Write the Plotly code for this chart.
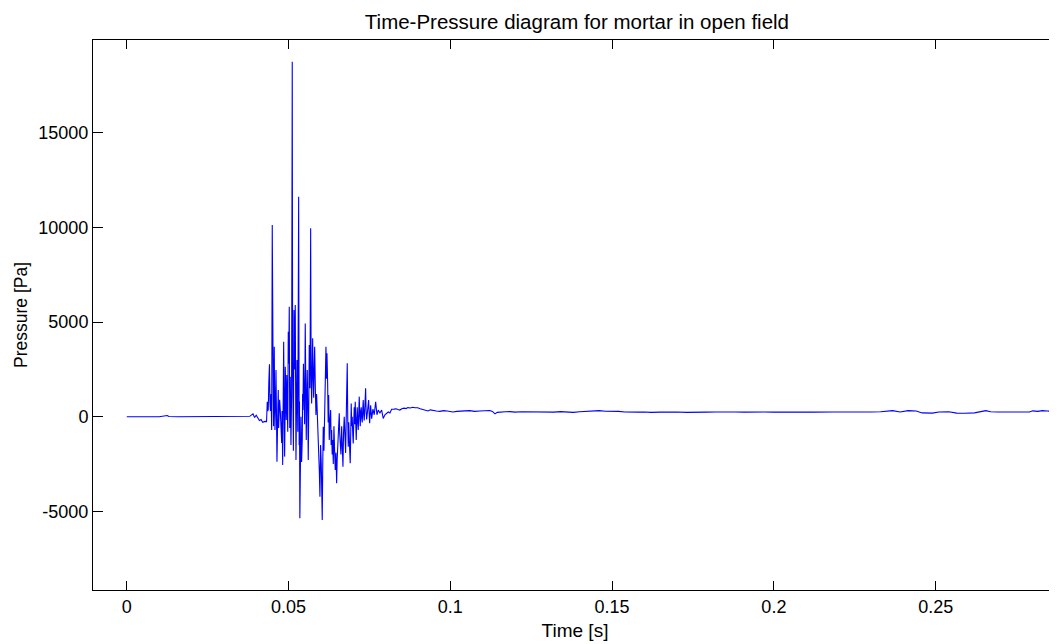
import plotly.graph_objects as go

# pressure record of a mortar shot
t_pre = [0.0, 0.005, 0.010, 0.0125, 0.013, 0.016, 0.020, 0.0235, 0.024, 0.025, 0.030,
         0.035, 0.038, 0.0390, 0.0395, 0.0400, 0.0405, 0.0410, 0.0415, 0.0420, 0.0427, 0.0432]
p_pre = [0, 5, 0, 60, 10, 0, 0, 30, 40, 0, 10,
         0, 20, 150, -40, 80, -100, -200, -150, -300, -250, -260]

t_burst = [0.04342, 0.04358, 0.04373, 0.04390, 0.04410, 0.04425, 0.04441, 0.04460, 0.04478, 0.04496,
           0.04507, 0.04518, 0.04527, 0.04536, 0.04547, 0.04558, 0.04569, 0.04580, 0.04595, 0.04611,
           0.04626, 0.04642, 0.04662, 0.04682, 0.04692, 0.04703, 0.04724, 0.04744, 0.04765, 0.04787,
           0.04800, 0.04818, 0.04834, 0.04849, 0.04864, 0.04879, 0.04889, 0.04898, 0.04914, 0.04929,
           0.04945, 0.04960, 0.04975, 0.04991, 0.05006, 0.05022, 0.05037, 0.05053, 0.05064, 0.05074,
           0.05094, 0.05114, 0.05125, 0.05136, 0.05150, 0.05167, 0.05187, 0.05207, 0.05218, 0.05229,
           0.05245, 0.05260, 0.05286, 0.05312, 0.05328, 0.05338, 0.05349, 0.05366, 0.05383, 0.05403,
           0.05423, 0.05434, 0.05445, 0.05460, 0.05476, 0.05496, 0.05516, 0.05531, 0.05547, 0.05562,
           0.05578, 0.05594, 0.05609, 0.05625, 0.05640, 0.05662, 0.05683, 0.05698, 0.05714, 0.05730,
           0.05745, 0.05760, 0.05776, 0.05791, 0.05807, 0.05827, 0.05847, 0.05867, 0.05887, 0.05909,
           0.05931, 0.05950, 0.05970, 0.05990, 0.06011, 0.06026, 0.06041, 0.06057, 0.06072, 0.06094,
           0.06115, 0.06135, 0.06156, 0.06172, 0.06187, 0.06208, 0.06224, 0.06239, 0.06258, 0.06280,
           0.06301, 0.06316, 0.06332, 0.06348, 0.06363, 0.06383, 0.06403, 0.06423, 0.06443, 0.06465,
           0.06486, 0.06502, 0.06517, 0.06542, 0.06567, 0.06582, 0.06597, 0.06619, 0.06641, 0.06661,
           0.06681, 0.06701, 0.06721, 0.06743, 0.06764, 0.06780, 0.06795, 0.06814, 0.06830, 0.06845,
           0.06860, 0.06876, 0.06891, 0.06906, 0.06921, 0.06937, 0.06952, 0.06968, 0.06984, 0.06999,
           0.07015, 0.07030, 0.07046, 0.07061, 0.07077, 0.07092, 0.07108, 0.07123, 0.07139, 0.07154,
           0.07170, 0.07185, 0.07200, 0.07216, 0.07231, 0.07247, 0.07262, 0.07278, 0.07293, 0.07308,
           0.07324, 0.07339, 0.07360, 0.07382, 0.07397, 0.07413, 0.07444, 0.07475, 0.07490, 0.07506,
           0.07537, 0.07568, 0.07608, 0.07648, 0.07692, 0.07732, 0.07772, 0.07824, 0.07877, 0.07926,
           0.07979, 0.08032, 0.08081, 0.08133, 0.08186, 0.08266]
p_burst = [790, 300, 400, 1800, 2770, 800, 300, 1200, -700, 10130,
           2000, 5810, 1000, -500, 1500, 3700, 800, -700, 600, 2470,
           200, -2380, -300, 1410, -600, 0, 900, 350, -500, -1390,
           300, -2550, 800, 3960, 500, -2110, -200, 2640, 1000, -170,
           2200, 1000, -800, 4490, 2800, 5810, -600, 2110, 400, -1500,
           1200, 18760, 3000, 600, -1800, 5640, 2500, 5900, 1200, -2290,
           400, 3000, -800, 11630, -1500, 800, -5370, -2000, 0, -2400,
           -1230, 1200, 350, 2800, 1590, -400, 4930, 1500, -1230, 800,
           2470, 300, -2290, 600, 3790, 1500, 9960, 2200, 700, 2500,
           4140, 2000, 1000, 2600, 3700, 1500, 90, 1200, 350, -600,
           -1410, -2800, -4230, -1500, -2460, -3600, -5460, -2500, -530, -1800,
           0, 1800, 3700, 2000, 3350, 1800, -300, 1150, -1230, -200,
           350, -1500, -700, -2000, -1230, -2500, -500, -1800, -2820, -1900,
           -3520, -2300, -1700, -600, 180, -900, -1230, -2000, -500, -1500,
           -2640, -800, 0, -1000, -1920, -300, 530, 2820, -200, -1590,
           -300, -800, -1800, -2460, -600, 700, -500, 0, -900, -1410,
           -300, 500, -400, 790, -300, -1230, -200, 500, -300, -700,
           200, 1060, 100, -500, 300, 500, -100, -300, 400, 880,
           100, -200, 600, 1500, 300, -150, 350, 880, 200, -350,
           600, -100, 400, 100, 790, 100, 350, 200, 350, -90,
           100, 200, 250, 200, 390, 400]

t_tail = [0.0832, 0.0838, 0.0844, 0.0850, 0.0857, 0.0863, 0.0869, 0.0876, 0.0884, 0.0891,
          0.0899, 0.0907, 0.0915, 0.0923, 0.0931, 0.0938, 0.0946, 0.0957, 0.0968, 0.0979,
          0.0990, 0.1000, 0.1008, 0.1020, 0.1030, 0.1045, 0.1060, 0.1075, 0.1091, 0.1105,
          0.1122, 0.1130, 0.1138, 0.1145, 0.1153, 0.1170, 0.1184, 0.1200, 0.1220, 0.1240,
          0.1260, 0.1280, 0.1300, 0.1320, 0.1340, 0.1360, 0.1380, 0.1400, 0.1420, 0.1440,
          0.1460, 0.1480, 0.1500, 0.1520, 0.1540, 0.1560, 0.1580, 0.1600, 0.1620, 0.1650,
          0.1680, 0.1700, 0.1730, 0.1760, 0.1790, 0.1820, 0.1850, 0.1880, 0.1910, 0.1940,
          0.1970, 0.2000, 0.2030, 0.2060, 0.2090, 0.2120, 0.2150, 0.2180, 0.2210, 0.2240,
          0.2270, 0.2300, 0.2330, 0.2367, 0.2390, 0.2415, 0.2440, 0.2458, 0.2490, 0.2510,
          0.2540, 0.2565, 0.2590, 0.2620, 0.2655, 0.2670, 0.2690, 0.2710, 0.2730, 0.2760,
          0.2790, 0.2800, 0.2815, 0.2830, 0.2845, 0.2860, 0.2875]
p_tail = [420, 380, 350, 420, 450, 430, 480, 460, 500, 470,
          470, 420, 380, 340, 300, 360, 350, 300, 280, 320,
          300, 270, 250, 280, 280, 310, 320, 280, 300, 320,
          330, 280, 150, 230, 250, 260, 270, 240, 260, 250,
          230, 260, 250, 240, 270, 250, 230, 260, 280, 300,
          320, 290, 300, 280, 250, 230, 240, 250, 230, 240,
          270, 250, 230, 250, 240, 250, 270, 250, 240, 260,
          250, 240, 250, 260, 250, 240, 260, 250, 250, 240,
          250, 250, 260, 320, 250, 320, 300, 200, 190, 250,
          260, 190, 180, 200, 320, 260, 250, 240, 250, 250,
          250, 310, 280, 320, 300, 290, 280]

x_ticks = [0, 0.05, 0.1, 0.15, 0.2, 0.25]
x_labels = ['0', '0.05', '0.1', '0.15', '0.2', '0.25']
y_ticks = [-5000, 0, 5000, 10000, 15000]
y_labels = ['-5000', '0', '5000', '10000', '15000']

t = t_pre + t_burst + t_tail
p = p_pre + p_burst + p_tail

font = 'Liberation Sans, Arial, sans-serif'
y_range = [-9160, 19910]

# page body has an 8px margin, so the figure is a bit smaller than the window
W, H = 1049, 636

fig = go.Figure()
fig.add_trace(go.Scatter(x=t, y=p, mode='lines',
                         line=dict(color='#0000ff', width=1.1),
                         showlegend=False, hoverinfo='skip'))

fig.update_layout(
    width=W, height=H,
    margin=dict(l=85, r=0, t=32, b=54),
    paper_bgcolor='white', plot_bgcolor='white',
    font=dict(family=font, size=18, color='black'),
    title=dict(text='Time-Pressure diagram for mortar in open field',
               x=0.502, xref='paper', xanchor='center',
               y=1 - 14 / H, yanchor='middle',
               font=dict(family=font, size=20.5, color='black')),
    xaxis=dict(range=[-0.01044, 0.2875], tickvals=x_ticks, ticktext=x_labels,
               ticks='inside', ticklen=9, tickcolor='black', tickwidth=1,
               tickfont=dict(size=18),
               showline=True, linecolor='black', linewidth=1, mirror='ticks',
               showgrid=False, zeroline=False,
               title=dict(text='Time [s]', standoff=8, font=dict(size=19))),
    yaxis=dict(range=y_range, tickvals=y_ticks, ticktext=y_labels,
               ticks='inside', ticklen=10, tickcolor='black', tickwidth=1,
               tickfont=dict(size=18),
               showline=True, linecolor='black', linewidth=1,
               showgrid=False, zeroline=False,
               title=dict(text='Pressure [Pa]', standoff=6, font=dict(size=17.5))),
    yaxis2=dict(range=y_range, tickvals=y_ticks, overlaying='y', side='right',
                ticks='inside', ticklen=10, tickcolor='black', tickwidth=1,
                showticklabels=False, showline=False, showgrid=False, zeroline=False),
)

fig.write_html("out.html")
